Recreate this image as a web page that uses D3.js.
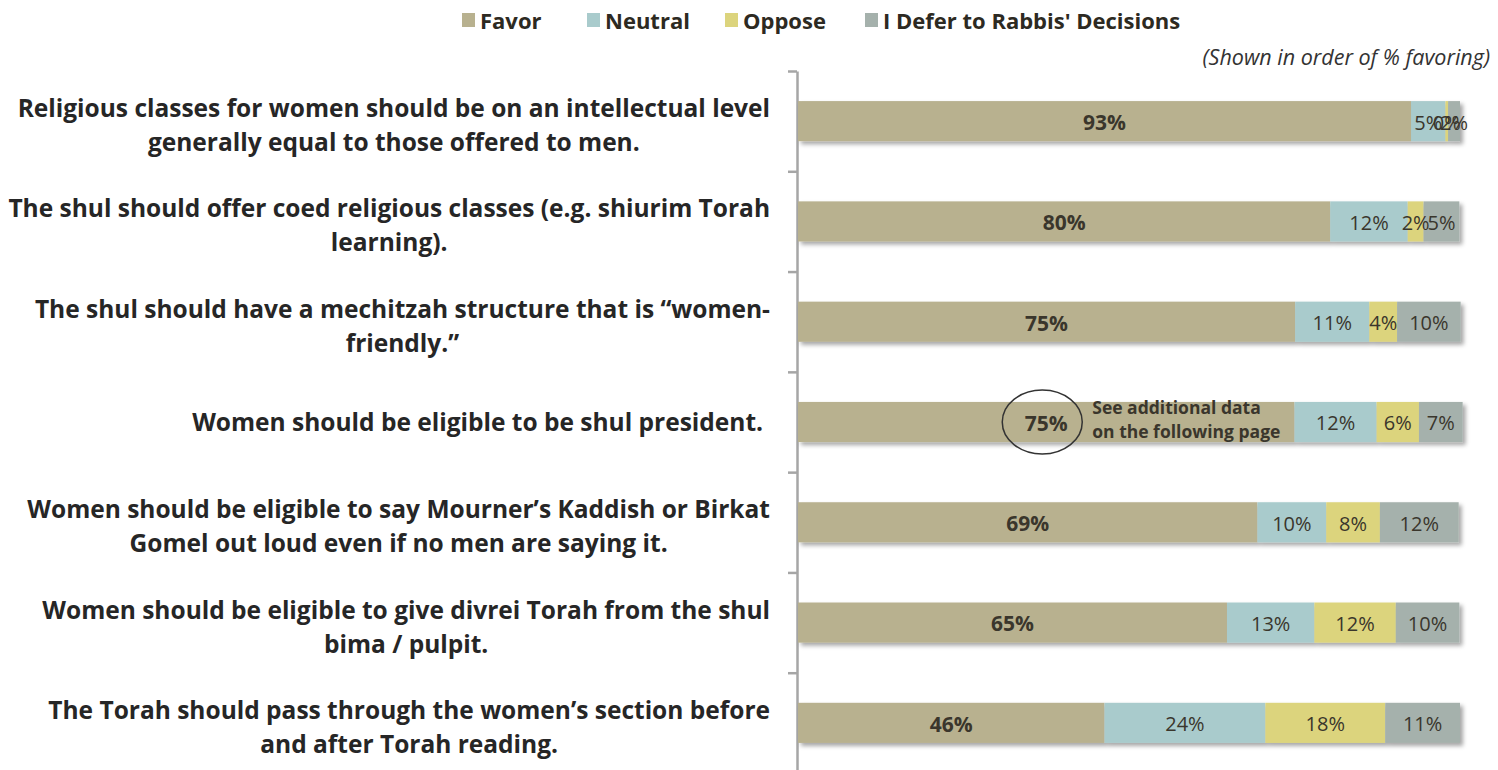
<!DOCTYPE html>
<html><head><meta charset="utf-8">
<script src="https://cdn.jsdelivr.net/npm/d3@7"></script>
<style>
html,body{margin:0;padding:0;background:#fff;}
svg{display:block;}
</style></head>
<body>
<svg id="chart" width="1498" height="770"></svg>
<script>
const categories = [
  "Religious classes for women should be on an intellectual level\ngenerally equal to those offered to men.",
  "The shul should offer coed religious classes (e.g. shiurim Torah\nlearning).",
  "The shul should have a mechitzah structure that is \u201cwomen-\nfriendly.\u201d",
  "Women should be eligible to be shul president.",
  "Women should be eligible to say Mourner\u2019s Kaddish or Birkat\nGomel out loud even if no men are saying it.",
  "Women should be eligible to give divrei Torah from the shul\nbima / pulpit.",
  "The Torah should pass through the women\u2019s section before\nand after Torah reading."
];
const seriesNames = ["Favor", "Neutral", "Oppose", "I Defer to Rabbis' Decisions"];
const favor   = [92.6, 80.4, 75.1, 75.0, 69.4, 64.8, 46.3];
const neutral = [5.2, 11.7, 11.2, 12.4, 10.4, 13.2, 24.3];
const oppose  = [0.4, 2.4, 4.2, 6.4, 8.1, 12.3, 18.1];
const defer   = [1.8, 5.4, 9.6, 6.6, 11.9, 9.6, 11.3];
const xTicks = [0, 100];
const subtitle = "(Shown in order of % favoring)";
const annotationLines = ["See additional data", "on the following page"];
const annotatedIndex = 3;

const colors = ["#b8b18f", "#a9cbcc", "#dcd47d", "#a5b1ac"];
const svg = d3.select("#chart");
const font = "'Open Sans', sans-serif";

const defs = svg.append("defs");
const f = defs.append("filter").attr("id","shadow").attr("x","-5%").attr("y","-30%").attr("width","110%").attr("height","170%");
f.append("feDropShadow").attr("dx",3).attr("dy",3).attr("stdDeviation",2).attr("flood-color","#000").attr("flood-opacity",0.35);

const x = d3.scaleLinear().domain(xTicks).range([798, 1460]);
const y = d3.scaleBand().domain(categories).range([71, 773]).paddingInner(0.6).paddingOuter(0.3);
const yEdge = d3.scaleLinear().domain([0, categories.length]).range([71, 773]);

const rows = categories.map((c, i) => ({cat: c, vals: [favor[i], neutral[i], oppose[i], defer[i]]}));
const stack = d3.stack().keys([0,1,2,3]).value((d, k) => d.vals[k]);
const layers = stack(rows);

// axis
const axisG = svg.append("g").attr("transform", "translate(797,0)")
  .call(d3.axisLeft(yEdge).tickValues(d3.range(categories.length + 1)).tickFormat("").tickSizeInner(9).tickSizeOuter(0));
axisG.select(".domain").attr("stroke", "#a6a6a6").attr("stroke-width", 2.5);
axisG.selectAll(".tick line").attr("stroke", "#a6a6a6").attr("stroke-width", 2.5);

// bars
const barsG = svg.append("g");
const rowG = barsG.selectAll("g.row").data(rows).join("g").attr("class","row").attr("filter","url(#shadow)");
rowG.selectAll("rect").data((d, i) => layers.map(L => ({s: L[i], k: L.key})))
  .join("rect")
  .attr("x", d => x(d.s[0]))
  .attr("width", d => x(d.s[1]) - x(d.s[0]))
  .attr("y", d => y(d.s.data.cat))
  .attr("height", y.bandwidth())
  .attr("fill", d => colors[d.k]);

// value labels
const fmt = d3.format(".0f");
const labG = svg.append("g");
layers.forEach(L => {
  labG.selectAll(null).data(L).join("text")
    .attr("x", d => (x(d[0]) + x(d[1])) / 2)
    .attr("y", d => y(d.data.cat) + y.bandwidth() / 2)
    .attr("dy", "0.42em")
    .attr("text-anchor", "middle")
    .attr("font-family", font)
    .attr("font-size", L.key === 0 ? 21 : 20)
    .attr("font-weight", L.key === 0 ? 700 : 400)
    .attr("fill", "#3a362c")
    .text(d => fmt(d.data.vals[L.key]) + "%");
});

// category labels
const catG = svg.append("g");
categories.forEach(c => {
  const lines = c.split("\n");
  const n = lines.length;
  const cy = y(c) + y.bandwidth() / 2;
  const g = catG.append("g");
  const texts = lines.map((ln, i) => g.append("text")
    .attr("y", cy + 9 + (i - (n - 1) / 2) * 34 + (n - 1) * 4)
    .attr("text-anchor", "middle")
    .attr("font-family", font)
    .attr("font-weight", 700)
    .attr("font-size", 24.5)
    .attr("fill", "#262626")
    .text(ln));
  const maxW = d3.max(texts, t => t.node().getComputedTextLength());
  const right = n === 1 ? 763 : 770;
  texts.forEach(t => t.attr("x", right - maxW / 2));
});

// annotation
const ai = categories[annotatedIndex];
const acx = x(favor[annotatedIndex] / 2) - 4;
const acy = y(ai) + y.bandwidth() / 2;
svg.append("ellipse").attr("cx", acx).attr("cy", acy).attr("rx", 40).attr("ry", 32)
  .attr("fill", "none").attr("stroke", "#333").attr("stroke-width", 1.5);
annotationLines.forEach((ln, i) => {
  svg.append("text").attr("x", acx + 50).attr("y", acy - 8 + i * 24)
    .attr("font-family", font).attr("font-weight", 700).attr("font-size", 17.5)
    .attr("fill", "#3a362c").text(ln);
});

// legend
const legendX = [462, 587, 725, 865];
const lg = svg.append("g");
seriesNames.forEach((s, i) => {
  lg.append("rect").attr("x", legendX[i]).attr("y", 13).attr("width", 13).attr("height", 14).attr("fill", colors[i]);
  lg.append("text").attr("x", legendX[i] + 18).attr("y", 29)
    .attr("font-family", font).attr("font-weight", 700).attr("font-size", 22)
    .attr("fill", "#2d2a22").text(s);
});

// subtitle
svg.append("text").attr("x", 1490).attr("y", 65).attr("text-anchor", "end")
  .attr("font-family", font).attr("font-style", "italic").attr("font-size", 21.5)
  .attr("fill", "#333").text(subtitle);
</script>
</body></html>
